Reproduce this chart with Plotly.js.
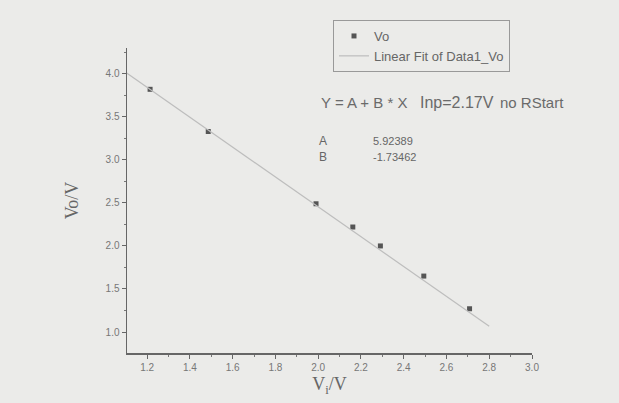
<!DOCTYPE html>
<html>
<head>
<meta charset="utf-8">
<script src="https://cdn.plot.ly/plotly-3.0.1.min.js"></script>
<style>html,body{margin:0;padding:0;background:#ebebe9;}#chart{width:619px;height:403px;}</style>
</head>
<body>
<div id="chart"></div>
<script>
// Measured data (Vi, Vo)
const viValues = [1.214, 1.486, 1.99, 2.162, 2.291, 2.494, 2.708];
const voValues = [3.82, 3.33, 2.49, 2.22, 2.0, 1.65, 1.27];
// Linear fit end points
const fitX = [1.1, 2.8];
const fitY = [4.016, 1.067];
const xTicks = [1.2, 1.4, 1.6, 1.8, 2.0, 2.2, 2.4, 2.6, 2.8, 3.0];
const yTicks = [1.0, 1.5, 2.0, 2.5, 3.0, 3.5, 4.0];
const eqParts = ["Y = A + B * X", "Inp=2.17V", "no RStart"];
const fitParams = [["A", "5.92389"], ["B", "-1.73462"]];

const traces = [
  {x: viValues, y: voValues, mode: 'markers', name: 'Vo', type: 'scatter',
   marker: {symbol: 'square', size: 5, color: '#555'}},
  {x: fitX, y: fitY, mode: 'lines', name: 'Linear Fit of Data1_Vo', type: 'scatter',
   line: {color: '#bdbdbd', width: 1.2}}
];

const tickFont = {family: 'Arial, Liberation Sans', size: 10, color: '#777'};
const eqX = [319, 418, 498];
const eqSize = [15, 16, 15];
const anns = eqParts.map((t, i) => ({xref: 'paper', yref: 'paper', x: (eqX[i]-127)/405, y: (353-102)/305,
   xanchor: 'left', yanchor: 'middle', text: t, showarrow: false,
   font: {family: 'Arial, Liberation Sans', size: eqSize[i], color: '#6a6a6a'}}));
fitParams.forEach((p, i) => {
  const yy = (353 - (141 + i*16))/305;
  anns.push({xref: 'paper', yref: 'paper', x: (317-127)/405, y: yy, xanchor: 'left', yanchor: 'middle',
    text: p[0], showarrow: false, font: {family: 'Arial, Liberation Sans', size: 12, color: '#666'}});
  anns.push({xref: 'paper', yref: 'paper', x: (371-127)/405, y: yy, xanchor: 'left', yanchor: 'middle',
    text: p[1], showarrow: false, font: {family: 'Arial, Liberation Sans', size: 11, color: '#666'}});
});

const layout = {
  width: 619, height: 403,
  margin: {l: 127, r: 87, t: 48, b: 50},
  paper_bgcolor: '#ebebe9', plot_bgcolor: '#ebebe9',
  showlegend: true,
  legend: {x: (333-127)/405, y: (353-20)/305, xanchor: 'left', yanchor: 'top',
    bgcolor: '#ebebe9', bordercolor: '#999', borderwidth: 1,
    font: {family: 'Arial, Liberation Sans', size: 13, color: '#666'},
    itemwidth: 30, traceorder: 'normal', tracegroupgap: 0},
  xaxis: {range: [1.106, 3.0], tickvals: xTicks, ticktext: xTicks.map(v => v.toFixed(1)),
    showgrid: false, zeroline: false, showline: true, linecolor: '#666', linewidth: 1.5,
    ticks: 'outside', ticklen: 4, tickcolor: '#666', tickfont: tickFont,
    minor: {dtick: 0.1, ticks: 'outside', ticklen: 2, tickcolor: '#777', showgrid: false},
    title: {text: 'V<sub>i</sub>/V', font: {family: 'Liberation Serif, Times New Roman, serif', size: 18, color: '#666'}, standoff: 6}},
  yaxis: {range: [0.756, 4.3], tickvals: yTicks, ticktext: yTicks.map(v => v.toFixed(1)),
    showgrid: false, zeroline: false, showline: true, linecolor: '#666', linewidth: 1.5,
    ticks: 'outside', ticklen: 4, tickcolor: '#666', tickfont: tickFont,
    minor: {dtick: 0.25, ticks: 'outside', ticklen: 2, tickcolor: '#777', showgrid: false},
    title: {text: 'Vo/V', font: {family: 'Liberation Serif, Times New Roman, serif', size: 18, color: '#666'}, standoff: 22}},
  annotations: anns
};
Plotly.newPlot('chart', traces, layout, {displayModeBar: false, staticPlot: true});
</script>
</body>
</html>
